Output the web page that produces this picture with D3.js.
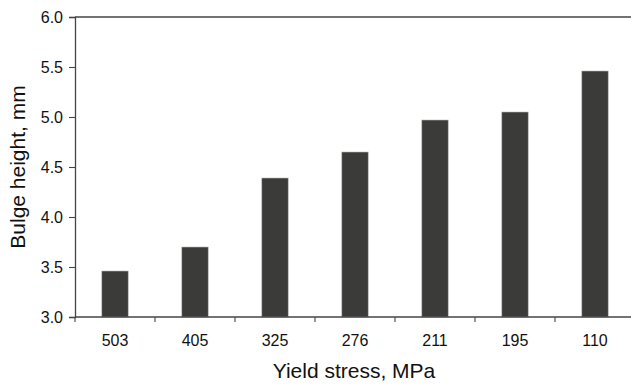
<!DOCTYPE html>
<html>
<head>
<meta charset="utf-8">
<script src="https://cdn.jsdelivr.net/npm/d3@7"></script>
<style>
  body { margin: 0; background: #fff; }
  svg text { font-family: "Liberation Sans", Arial, sans-serif; fill: #111; }
</style>
</head>
<body>
<script>
// Data.
var categories = ["503", "405", "325", "276", "211", "195", "110"],
  heights = [3.46, 3.70, 4.39, 4.65, 4.97, 5.05, 5.46],
  yTicks = [3.0, 3.5, 4.0, 4.5, 5.0, 5.5, 6.0];

// Layout.
var width = 631,
  height = 385,
  plotLeft = 75,
  plotRight = 635,
  plotTop = 17,
  plotBottom = 317,
  axisColor = "#444",
  barColor = "#3b3b39";

var svg = d3.select("body").append("svg")
    .attr("width", width)
    .attr("height", height);

var x = d3.scaleBand()
    .domain(categories)
    .range([plotLeft, plotRight])
    .paddingInner(0.67)
    .paddingOuter(0.335),
  y = d3.scaleLinear()
    .domain([3, 6])
    .range([plotBottom, plotTop]);

// Bars.
svg.append("g").selectAll("rect")
    .data(categories)
  .enter().append("rect")
    .attr("x", function(d) { return x(d); })
    .attr("y", function(d, i) { return y(heights[i]); })
    .attr("width", x.bandwidth())
    .attr("height", function(d, i) { return plotBottom - y(heights[i]); })
    .style("fill", barColor)
    .style("stroke", "#bbb")
    .style("stroke-width", 0.6);

// Top frame line.
svg.append("line")
    .attr("x1", plotLeft).attr("x2", plotRight)
    .attr("y1", plotTop).attr("y2", plotTop)
    .style("stroke", axisColor)
    .style("stroke-width", 1.3);

// Y axis.
var yAxis = svg.append("g")
    .attr("transform", "translate(" + plotLeft + ",0)")
    .call(d3.axisLeft(y).tickValues(yTicks).tickFormat(d3.format(".1f")).tickSize(6).tickPadding(6));
yAxis.select(".domain").style("stroke", axisColor).style("stroke-width", 1.3);
yAxis.selectAll(".tick line").style("stroke", axisColor).style("stroke-width", 1.1);
yAxis.selectAll("text")
    .style("font-size", "16px")
    .style("font-family", '"Liberation Sans", Arial, sans-serif')
    .style("fill", "#111");

// X axis: tick labels at band centres, tick marks at band boundaries.
var xAxis = svg.append("g")
    .attr("transform", "translate(0," + plotBottom + ")")
    .call(d3.axisBottom(x).tickSize(0).tickPadding(18));
xAxis.select(".domain").remove();
xAxis.selectAll("text")
    .style("font-size", "16px")
    .style("font-family", '"Liberation Sans", Arial, sans-serif')
    .style("fill", "#111");

svg.append("line")
    .attr("x1", plotLeft).attr("x2", plotRight)
    .attr("y1", plotBottom).attr("y2", plotBottom)
    .style("stroke", axisColor)
    .style("stroke-width", 1.3);

var step = x.step();
svg.append("g").selectAll("line")
    .data(categories)
  .enter().append("line")
    .attr("x1", function(d) { return x(d) - step * x.paddingOuter(); })
    .attr("x2", function(d) { return x(d) - step * x.paddingOuter(); })
    .attr("y1", plotBottom)
    .attr("y2", plotBottom + 5)
    .style("stroke", axisColor)
    .style("stroke-width", 1.1);

// Axis titles.
svg.append("text")
    .attr("x", 354)
    .attr("y", 378)
    .attr("text-anchor", "middle")
    .style("font-size", "21px")
    .text("Yield stress, MPa");

svg.append("text")
    .attr("transform", "translate(25," + ((plotTop + plotBottom) / 2) + ") rotate(-90)")
    .attr("text-anchor", "middle")
    .style("font-size", "21px")
    .text("Bulge height, mm");
</script>
</body>
</html>
